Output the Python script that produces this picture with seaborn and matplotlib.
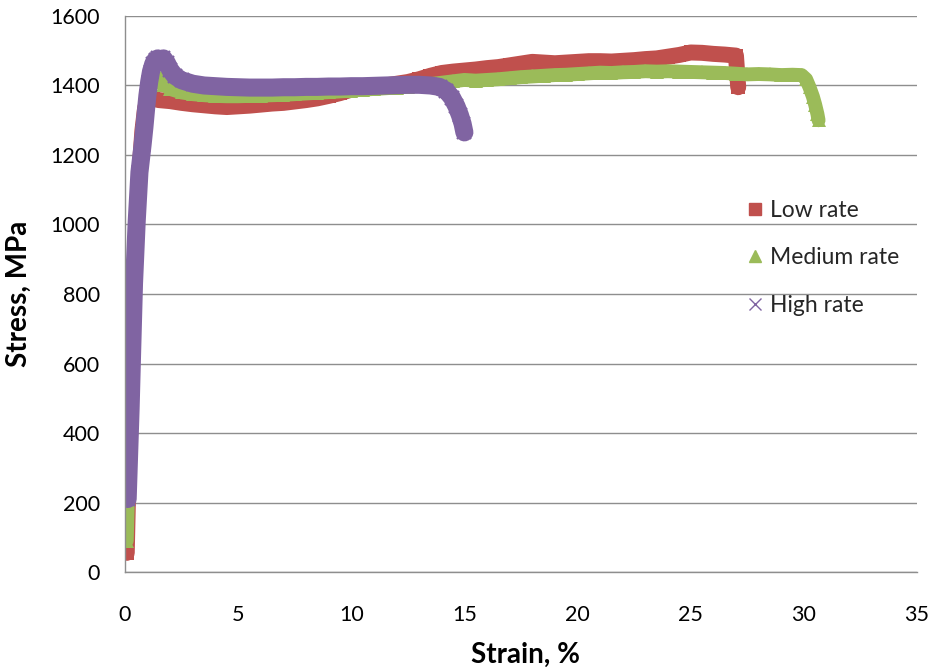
import matplotlib
matplotlib.use("Agg")
import matplotlib.pyplot as plt
import seaborn as sns
import pandas as pd
from matplotlib.lines import Line2D

sns.set_theme(style="white")
plt.rcParams["font.family"] = ["Lato", "DejaVu Sans"]

# ---- tensile test data: strain (%) vs engineering stress (MPa) ----
low_strain = [0.08, 0.15, 0.22, 0.30, 0.40, 0.52, 0.64, 0.77, 0.89, 1.00, 1.12, 1.25,
              1.5, 2.0, 2.5, 3.0, 3.5, 4.0, 4.5, 5.0, 5.5, 6.0, 6.5, 7.0, 7.5, 8.0,
              8.5, 9.0, 9.5, 10.0, 10.5, 11.0, 11.5, 12.0, 12.5, 13.0, 13.5, 14.0,
              14.5, 15.0, 15.5, 16.0, 16.5, 17.0, 17.5, 18.0, 18.5, 19.0, 19.5, 20.0,
              20.5, 21.0, 21.5, 22.0, 22.5, 23.0, 23.5, 24.0, 24.5, 25.0, 25.5, 26.0,
              26.5, 27.0, 27.05, 27.1]
low_stress = [55, 260, 450, 640, 830, 1010, 1150, 1270, 1335, 1355, 1360, 1362,
              1358, 1355, 1350, 1346, 1343, 1340, 1338, 1340, 1342, 1345, 1348, 1350,
              1354, 1358, 1363, 1370, 1378, 1388, 1392, 1396, 1400, 1405, 1410, 1418,
              1428, 1436, 1440, 1443, 1446, 1450, 1453, 1458, 1463, 1468, 1466, 1464,
              1466, 1468, 1470, 1470, 1469, 1471, 1473, 1476, 1478, 1483, 1488, 1495,
              1494, 1491, 1489, 1486, 1440, 1395]

med_strain = [0.08, 0.15, 0.22, 0.30, 0.40, 0.52, 0.64, 0.77, 0.87, 0.98, 1.1, 1.25,
              1.4, 1.5, 1.7, 2.0, 2.5, 3.0, 3.5, 4.0, 4.5, 5.0, 5.5, 6.0, 6.5, 7.0,
              7.5, 8.0, 8.5, 9.0, 9.5, 10.0, 10.5, 11.0, 11.5, 12.0, 12.5, 13.0, 13.5,
              14.0, 14.5, 15.0, 15.5, 16.0, 16.5, 17.0, 17.5, 18.0, 18.5, 19.0, 19.5,
              20.0, 20.5, 21.0, 21.5, 22.0, 22.5, 23.0, 23.5, 24.0, 24.5, 25.0, 25.5,
              26.0, 26.5, 27.0, 27.5, 28.0, 28.5, 29.0, 29.5, 29.9, 30.1, 30.25, 30.4,
              30.5, 30.6, 30.65]
med_stress = [90, 260, 450, 640, 830, 1010, 1150, 1270, 1330, 1375, 1398, 1410,
              1418, 1422, 1402, 1390, 1380, 1375, 1372, 1370, 1369, 1369, 1370, 1371,
              1372, 1373, 1375, 1377, 1379, 1381, 1383, 1385, 1388, 1390, 1392, 1394,
              1397, 1400, 1404, 1408, 1412, 1416, 1414, 1416, 1418, 1421, 1424, 1426,
              1428, 1430, 1431, 1433, 1435, 1437, 1436, 1438, 1439, 1441, 1440, 1441,
              1440, 1439, 1438, 1437, 1436, 1434, 1432, 1433, 1432, 1430, 1431, 1430,
              1418, 1395, 1368, 1345, 1318, 1300]

high_strain = [0.12, 0.18, 0.25, 0.32, 0.40, 0.52, 0.64, 0.78, 0.86, 0.93, 0.99, 1.07,
               1.15, 1.25, 1.35, 1.45, 1.55, 1.7, 1.85, 2.0, 2.2, 2.5, 3.0, 3.5, 4.0,
               4.5, 5.0, 5.5, 6.0, 6.5, 7.0, 7.5, 8.0, 8.5, 9.0, 9.5, 10.0, 10.5,
               11.0, 11.5, 12.0, 12.5, 13.0, 13.5, 13.9, 14.2, 14.45, 14.65, 14.8,
               14.92, 15.0]
high_stress = [210, 330, 470, 640, 830, 1010, 1150, 1230, 1280, 1330, 1370, 1410,
               1440, 1462, 1474, 1478, 1472, 1478, 1465, 1445, 1428, 1415, 1405, 1400,
               1398, 1396, 1395, 1394, 1394, 1394, 1395, 1395, 1396, 1396, 1397, 1397,
               1398, 1398, 1399, 1400, 1401, 1402, 1402, 1400, 1396, 1385, 1365, 1340,
               1315, 1290, 1265]

series_names = ["Low rate", "Medium rate", "High rate"]
colors = ["#C0504D", "#9BBB59", "#8064A2"]

fig = plt.figure(figsize=(9.36, 6.72), dpi=100)
ax = fig.add_axes([0.1335, 0.1488, 0.8462, 0.8274])

styles = [
    dict(marker="s", markersize=10, markeredgewidth=0, linewidth=11.5),
    dict(marker="^", markersize=10, markeredgewidth=0, linewidth=10),
    dict(marker="x", markersize=10, markeredgewidth=1.6, linewidth=13),
]
data = [(low_strain, low_stress), (med_strain, med_stress), (high_strain, high_stress)]

for name, (xs, ys), color, st in zip(series_names, data, colors, styles):
    df = pd.DataFrame({"Strain": xs, "Stress": ys})
    sns.lineplot(data=df, x="Strain", y="Stress", sort=False, estimator=None,
                 color=color, markeredgecolor=color, ax=ax,
                 solid_capstyle="round", solid_joinstyle="round", **st)

ax.set_xlim(0, 35)
ax.set_ylim(0, 1600)
ax.set_xticks(range(0, 36, 5))
ax.set_yticks(range(0, 1601, 200))

grid_color = "#8e8e8e"
ax.yaxis.grid(True, color=grid_color, linewidth=1)
ax.xaxis.grid(False)
ax.set_axisbelow(True)
for side in ("top", "right"):
    ax.spines[side].set_visible(False)
for side in ("left", "bottom"):
    ax.spines[side].set_color(grid_color)
    ax.spines[side].set_linewidth(1)

ax.tick_params(axis="x", length=0, pad=24, labelsize=15.5, labelcolor="black")
ax.tick_params(axis="y", length=0, pad=18, labelsize=15.5, labelcolor="black")

ax.set_xlabel("Strain, %", fontsize=20, fontweight="bold", color="black")
ax.set_ylabel("Stress, MPa", fontsize=20, fontweight="bold", color="black")
ax.xaxis.set_label_coords(0.506, -0.125)
ax.yaxis.set_label_coords(-0.118, 0.5)

handles = [
    Line2D([], [], linestyle="none", marker="s", markersize=8, color=colors[0]),
    Line2D([], [], linestyle="none", marker="^", markersize=8.5, color=colors[1]),
    Line2D([], [], linestyle="none", marker="x", markersize=8, markeredgewidth=1,
           color=colors[2]),
]
ax.legend(handles, series_names, loc="center left",
          bbox_to_anchor=(747 / 936, 1 - 258 / 672), bbox_transform=fig.transFigure,
          frameon=False, fontsize=16.5, handlelength=0.7, handletextpad=0.3,
          labelspacing=1.15, borderpad=0, borderaxespad=0)

fig.savefig("out.png", dpi=100, facecolor="white")
